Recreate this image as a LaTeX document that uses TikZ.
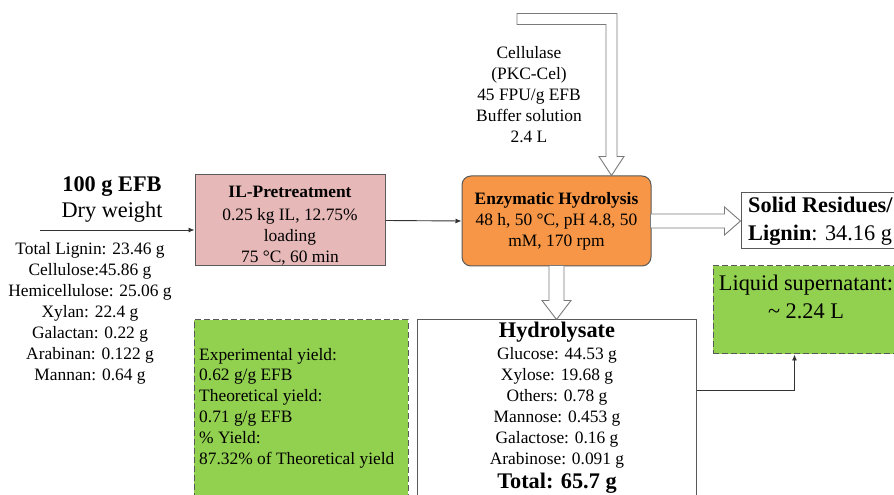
\documentclass[tikz,border=0pt]{standalone}
\usepackage{fontspec}
\setmainfont{Liberation Serif}
\usetikzlibrary{arrows.meta,calc}
\definecolor{pinkfill}{HTML}{E6B9B8}
\definecolor{orangefill}{HTML}{F79646}
\definecolor{greenfill}{HTML}{92D050}
\definecolor{boxline}{HTML}{595959}
\newcommand\smtxt{\fontsize{17.4}{21}\selectfont}
\newcommand\lgtxt{\fontsize{22.3}{28}\selectfont}
\tikzset{
  box/.style={draw=boxline, line width=1pt, rectangle, inner sep=0pt},
  dashbox/.style={draw=boxline, line width=1pt, fill=greenfill, dash pattern=on 6pt off 3pt, rectangle, inner sep=0pt},
  txt/.style={font=\smtxt, align=center, inner sep=0pt},
  arr/.style={draw=black!80, line width=0.9pt, -{Latex[length=6pt,width=5pt]}},
  blockarrow/.style={draw=boxline!80, line width=0.9pt, fill=white, line join=miter}
}
\begin{document}
\begin{tikzpicture}[x=1pt,y=1pt]
\useasboundingbox (0,0) rectangle (894,495);
\clip (0,0) rectangle (894,495);
% feed
\node[txt, font=\lgtxt\bfseries] (ttl) at (112,308) {100 g EFB};
\node[txt, font=\lgtxt] (dryw) at (112,283) {Dry weight};
\node[txt] (comp) at (90,181.5) {Total Lignin: 23.46 g\\Cellulose:45.86 g\\Hemicellulose: 25.06 g\\Xylan: 22.4 g\\Galactan: 0.22 g\\Arabinan: 0.122 g\\Mannan: 0.64 g};
% IL pretreatment
\node[box, fill=pinkfill, minimum width=190, minimum height=91] (il) at (290,274.5) {};
\node[txt] (ilt) at (290,269) {\textbf{IL-Pretreatment}\\[2pt]0.25 kg IL, 12.75\%\\loading\\75 °C, 60 min};
% enzymatic hydrolysis
\node[box, fill=orangefill, rounded corners=9pt, minimum width=189, minimum height=90] (enz) at (556.5,274) {};
\node[txt] (enzt) at (556.5,274) {\textbf{Enzymatic Hydrolysis}\\48 h, 50 °C, pH 4.8, 50\\mM, 170 rpm};
% cellulase input text
\node[txt] (cel) at (529,400) {Cellulase\\(PKC-Cel)\\45 FPU/g EFB\\Buffer solution\\2.4 L};
% solid residues
\node[box, fill=white, minimum width=219, minimum height=56] (solid) at (850.5,274) {};
\node[txt, font=\lgtxt, align=left, anchor=west] (solidt) at (748,274) {\textbf{Solid Residues/}\\\textbf{Lignin}: 34.16 g};
% liquid supernatant
\node[dashbox, minimum width=247, minimum height=88] (liq) at (836.5,185) {};
\node[txt, font=\lgtxt] (liqt) at (806,198.5) {Liquid supernatant:\\\textasciitilde{} 2.24 L};
% hydrolysate
\node[box, fill=white, minimum width=279, minimum height=200] (hydro) at (556.5,75) {};
\node[txt] (hydrot) at (557,87) {{\lgtxt\bfseries Hydrolysate}\\[1pt]Glucose: 44.53 g\\Xylose: 19.68 g\\Others: 0.78 g\\Mannose: 0.453 g\\Galactose: 0.16 g\\Arabinose: 0.091 g\\[3pt]{\lgtxt\bfseries Total: 65.7 g}};
% yield
\node[dashbox, minimum width=214, minimum height=200] (yield) at (301,75) {};
\node[txt, align=left, anchor=west, font=\fontsize{17.4}{20.8}\selectfont] (yieldt) at (199,87) {Experimental yield:\\0.62 g/g EFB\\Theoretical yield:\\0.71 g/g EFB\\\% Yield:\\87.32\% of Theoretical yield};
% connectors
\coordinate (in) at (40,265);
\draw[arr] (in) -- (in -| il.west);
\draw[arr] (il.east) -- (enz.west);
\draw[arr] ($(hydro.north east)+(0,-71)$) -| ($(liq.south west)+(82,0)$);
% block arrows
\draw[blockarrow] ($(enz.north)+(55,0)$) -- ++(12.5,19) -- ++(-7,0) -- ++(0,143) -- ++(-100,0) -- ++(0,-11) -- ++(89,0) -- ++(0,-132) -- ++(-7,0) -- cycle;
\draw[blockarrow] (solid.west) -- ++(-16,14) -- ++(0,-7) -- ++(-74,0) -- ++(0,-14) -- ++(74,0) -- ++(0,-7) -- cycle;
\draw[blockarrow] (hydro.north) -- ++(14.5,19) -- ++(-7,0) -- ++(0,35) -- ++(-15,0) -- ++(0,-35) -- ++(-7,0) -- cycle;
\end{tikzpicture}
\end{document}
